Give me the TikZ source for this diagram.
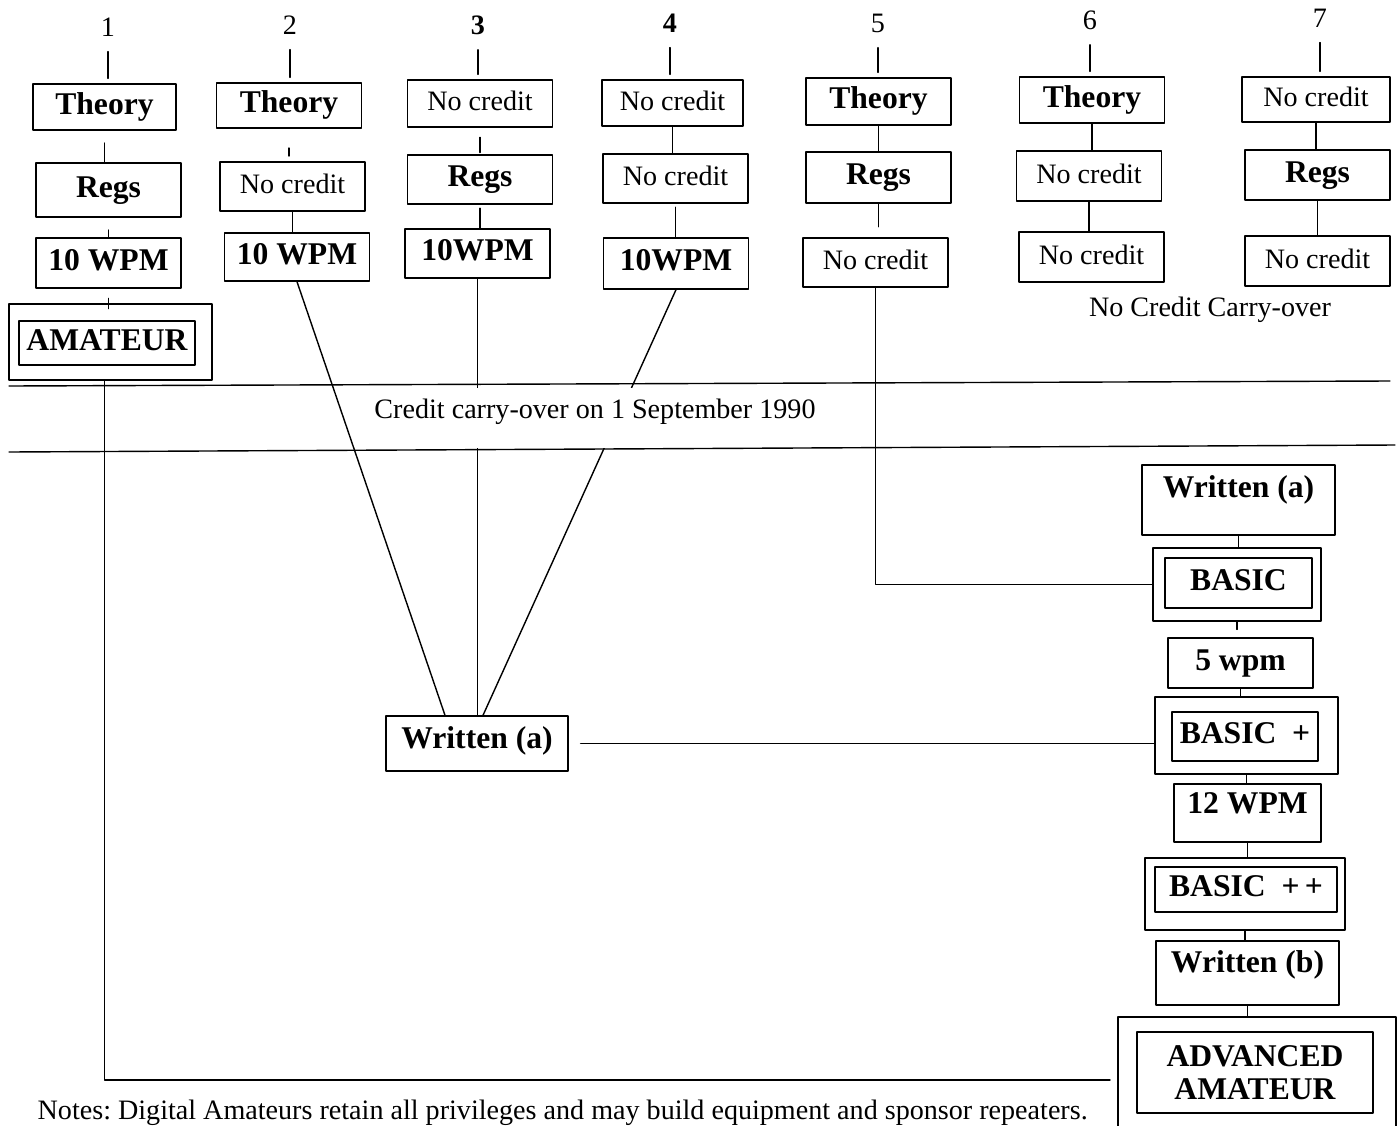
\documentclass[tikz,border=0pt]{standalone}
\usepackage{fontspec}
\setmainfont{Liberation Serif}
\newcommand\regf{\fontsize{16}{18}\selectfont}
\newcommand\bldf{\bfseries\fontsize{18}{18.7}\selectfont}
\begin{document}
\begin{tikzpicture}[x=0.02cm, y=-0.02cm, line join=round, line cap=round, line width=0.8pt,
    box/.style={draw, inner sep=0pt, minimum width=2.9cm, minimum height=0.96cm, text height=12pt, text depth=3.5pt, font=\bldf},
    nc/.style={box, font=\regf},
    num/.style={font=\regf},
    tick/.style={shorten <=5pt, shorten >=2.8pt}]
\useasboundingbox (0,0) rectangle (1400,1126);

% heads
\node[num] (c1) at (108,27) {1};
\node[num] (c2) at (290,25) {2};
\node[num] (c3) at (478,25) {\bfseries 3};
\node[num] (c4) at (670,23) {\bfseries 4};
\node[num] (c5) at (878,23) {5};
\node[num] (c6) at (1090,20) {6};
\node[num] (c7) at (1320,18) {7};

% column 1
\node[box, minimum width=2.86cm, minimum height=0.92cm] (t1) at (104.5,107) {Theory};
\node[box, minimum height=1.08cm] (r1) at (108.5,190) {Regs};
\node[box, minimum height=1cm] (w1) at (108.5,263) {10 WPM};
\node[box, minimum width=4.06cm, minimum height=1.52cm] (a1o) at (110.5,342) {};
\node[box, minimum width=3.52cm, minimum height=0.88cm] (a1i) at (107,343) {AMATEUR};
% column 2
\node[box, minimum height=0.9cm] (t2) at (289,105.5) {Theory};
\node[nc, minimum height=0.98cm] (n2) at (292.5,186.5) {No credit};
\node[box] (w2) at (297,257) {10 WPM};
% column 3
\node[nc, minimum height=0.94cm] (n3) at (480,103.5) {No credit};
\node[box, minimum height=0.98cm] (r3) at (480,179.5) {Regs};
\node[box, minimum height=0.98cm] (w3) at (477.5,253.5) {10WPM};
% column 4
\node[nc, minimum width=2.82cm, minimum height=0.92cm] (n4a) at (672.5,103) {No credit};
\node[nc, minimum height=0.98cm] (n4b) at (675.5,178.5) {No credit};
\node[box, minimum height=1.02cm] (w4) at (676,263.5) {10WPM};
% column 5
\node[box, minimum height=0.94cm] (t5) at (878.5,101.5) {Theory};
\node[box, minimum height=1.02cm] (r5) at (878.5,177.5) {Regs};
\node[nc, minimum height=0.98cm] (n5) at (875.5,262.5) {No credit};
% column 6
\node[box, minimum height=0.92cm] (t6) at (1092,100) {Theory};
\node[nc, minimum height=1cm] (n6a) at (1089,176) {No credit};
\node[nc, minimum height=1cm] (n6b) at (1091.5,257) {No credit};
% column 7
\node[nc, minimum width=2.96cm, minimum height=0.9cm] (n7a) at (1316,99.5) {No credit};
\node[box, minimum height=1cm] (r7) at (1317.5,175) {Regs};
\node[nc, minimum height=1cm] (n7b) at (1317.5,261) {No credit};
\node[num] (nocc) at (1210,310) {No Credit Carry-over};

% written (a) in the middle
\node[box, minimum width=3.64cm, minimum height=1.1cm, text depth=6.2pt] (wa) at (477,743.5) {Written (a)};

% right column
\node[box, minimum width=3.86cm, minimum height=1.4cm, text depth=14.7pt] (wa2) at (1238.5,500) {Written (a)};
\node[box, minimum width=3.36cm, minimum height=1.46cm] (bo) at (1237,584.5) {};
\node[box, minimum width=2.94cm, minimum height=1cm] (bi) at (1238.5,583) {BASIC};
\node[box, minimum height=1cm] (wpm5) at (1240.5,663) {5 wpm};
\node[box, minimum width=3.66cm, minimum height=1.54cm] (bpo) at (1246.5,735.5) {};
\node[box, minimum width=2.92cm, minimum height=0.98cm] (bpi) at (1245,736.5) {BASIC\ \ +};
\node[box, minimum width=2.94cm, minimum height=1.16cm, text depth=11.3pt] (w12) at (1247.5,813) {12 WPM};
\node[box, minimum width=4cm, minimum height=1.44cm] (bppo) at (1245,894) {};
\node[box, minimum width=3.64cm, minimum height=0.9cm] (bppi) at (1246,889.5) {BASIC\ \ +\,+};
\node[box, minimum width=3.66cm, minimum height=1.28cm, text depth=12.4pt] (wb) at (1247.5,973) {Written (b)};
\node[box, minimum width=5.56cm, minimum height=2.52cm] (advo) at (1257,1080) {};
\node[draw, inner sep=0pt, minimum width=4.72cm, minimum height=1.62cm, align=center, font=\bldf] (advi) at (1255,1072.5) {ADVANCED\\AMATEUR};
\coordinate (advin) at (1110,1080);

% column 1 links
\draw[tick] (c1) -- (c1 |- t1.north);
\draw[shorten <=7pt] (t1) -- (t1 |- r1.north);
\draw[shorten <=7pt] (r1) -- (r1 |- w1.north);
\draw[shorten <=5.5pt, shorten >=-3pt] (w1) -- (w1 |- a1o.north);
\draw (t1 |- a1o.south) |- (advin);
% column 2 links
\draw[tick] (c2) -- (c2 |- t2.north);
\draw[shorten <=11pt, shorten >=3pt] (t2) -- (t2 |- n2.north);
\draw (n2) -- (n2 |- w2.north);
\draw (w2.south) -- ([xshift=-0.64cm]wa.north);
% column 3 links
\draw[tick] (c3) -- (c3 |- n3.north);
\draw[shorten <=5.5pt, shorten >=1pt] (n3) -- (n3 |- r3.north);
\draw[shorten <=2pt] (r3) -- (r3 |- w3.north);
\draw (w3.south) -- (w3.south |- wa.north);
% column 4 links
\draw[tick] (c4) -- (c4 |- n4a.north);
\draw (n4a) -- (n4a |- n4b.north);
\draw[shorten <=2pt] (n4b) -- (n4b |- w4.north);
\draw (w4.south) -- ([xshift=0.12cm]wa.north);
% column 5 links
\draw[tick] (c5) -- (c5 |- t5.north);
\draw (t5) -- (t5 |- r5.north);
\draw[shorten >=6pt] (r5) -- (r5 |- n5.north);
\draw (n5) |- (bo.west);
% columns 6 and 7
\draw[tick] (c6) -- (c6 |- t6.north);
\draw (t6) -- (t6 |- n6a.north);
\draw (n6a) -- (n6a |- n6b.north);
\draw[tick] (c7) -- (c7 |- n7a.north);
\draw (n7a) -- (n7a |- r7.north);
\draw (r7) -- (r7 |- n7b.north);

% carry-over band
\node[fill=white, minimum height=1.2cm, text height=12pt, text depth=12pt, font=\regf] (band) at (595,418) {Credit carry-over on 1 September 1990};
\coordinate (bt1) at (9,386); \coordinate (bt2) at (1390,381);
\coordinate (bb1) at (9,452); \coordinate (bb2) at (1395,445);
\draw (bt1) -- (bt2);
\draw (bb1) -- (bb2);

% right column links
\draw[shorten <=6.8pt] (wa) -- (wa -| bpo.west);
\draw (wa2) -- (wa2 |- bo.north);
\draw[shorten >=4.5pt] (bo) -- (bo |- wpm5.north);
\draw (wpm5) -- (wpm5 |- bpo.north);
\draw (bpo) -- (bpo |- w12.north);
\draw (w12) -- (w12 |- bppo.north);
\draw (bppo) -- (bppo |- wb.north);
\draw (wb) -- (wb |- advo.north);

\node[anchor=west, inner sep=0pt, font=\fontsize{16}{18}\selectfont\frenchspacing] (notes) at (37,1113) {Notes: Digital Amateurs retain all privileges and may build equipment and sponsor repeaters.};
\end{tikzpicture}
\end{document}
